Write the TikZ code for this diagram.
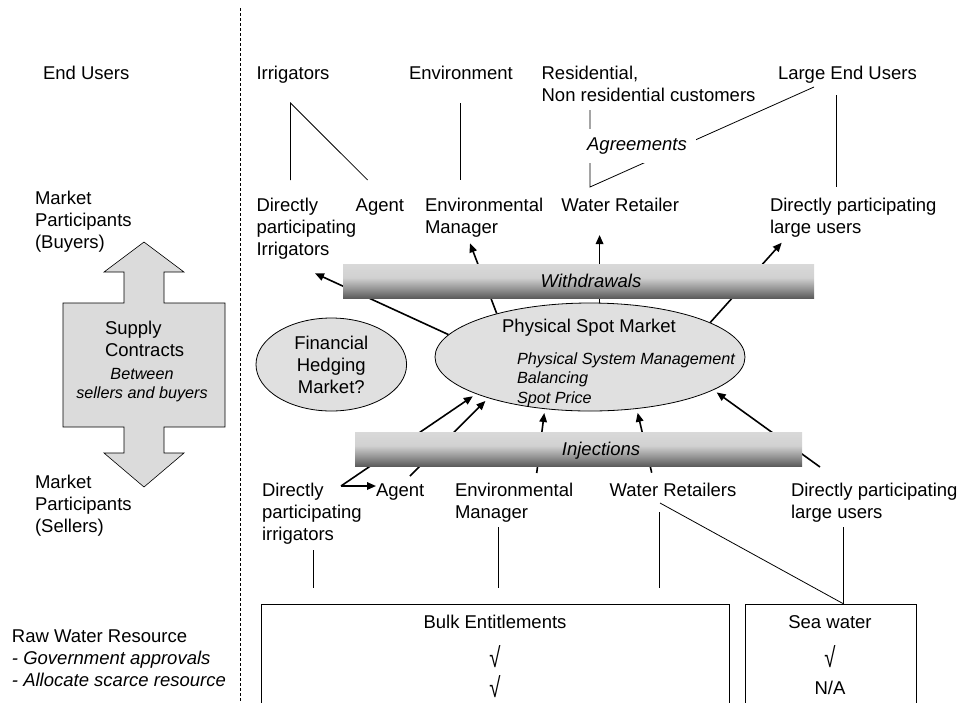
\documentclass[tikz,border=0pt]{standalone}
\usepackage{fontspec}
\usepackage{graphicx}
\setmainfont{Liberation Sans}
\usetikzlibrary{positioning}
\usetikzlibrary{shapes.geometric}
\usetikzlibrary{arrows.meta}

\newcommand{\bigsize}{\fontsize{18.5pt}{22pt}\selectfont}
\newcommand{\smallit}{\fontsize{16.2pt}{19.5pt}\selectfont\itshape}
\newcommand{\tick}{\scalebox{1.1}[1.5]{√}}
\pgfdeclareverticalshading{barshade}{100bp}{color(0bp)=(black!64); color(25bp)=(black!64); color(40bp)=(black!40); color(55bp)=(black!18); color(75bp)=(black!15); color(100bp)=(black!15)}

\begin{document}
\begin{tikzpicture}[x=1pt, y=-1pt,
    lbl/.style={inner sep=0pt, outer sep=0pt, align=left, anchor=base west, font=\bigsize},
    mkt/.style={ellipse, draw, fill=black!12, inner sep=0pt, line width=0.8pt},
    bar/.style={shading=barshade, inner sep=0pt, minimum height=34pt},
    arr/.style={line width=1.6pt, -{Triangle[length=9pt,width=7.5pt]}},
    link/.style={line width=0.8pt}]
  \useasboundingbox (0,0) rectangle (965,702);

  % separator
  \draw[dash pattern=on 3pt off 2pt, line width=0.7pt] (240,8) -- (240,702);

  % left column (multi-line labels sit on their last baseline)
  \node[lbl] (eu) at (43,79.5) {End Users};
  \node[lbl] (mpb) at (35,248.5) {Market\\Participants\\(Buyers)};
  \node[lbl] (mps) at (35,532) {Market\\Participants\\(Sellers)};
  \node[lbl] (rwr) at (12,686) {Raw Water Resource\\\textit{- Government approvals}\\\textit{- Allocate scarce resource}};

  % supply contracts
  \draw[fill=black!14, line width=0.6pt] (144,242) -- (184,272) -- (164,272) -- (164,303) -- (225,303)
    -- (225,427) -- (164,427) -- (164,453) -- (184,453) -- (144,487) -- (104,453) -- (124,453)
    -- (124,427) -- (63,427) -- (63,303) -- (124,303) -- (124,272) -- (104,272) -- cycle;
  \node[lbl] (sc) at (105,356.5) {Supply\\Contracts};
  \node[lbl, align=center, anchor=base, font=\smallit] (bsb) at (142,398.5) {Between\\sellers and buyers};

  % end users
  \node[lbl] (irr) at (256.5,79.5) {Irrigators};
  \node[lbl] (env) at (409,79.5) {Environment};
  \node[lbl] (res) at (541.6,101.5) {Residential,\\Non residential customers};
  \node[lbl] (leu) at (778,79.5) {Large End Users};

  % buyers
  \node[lbl] (dpi) at (256.5,255.5) {Directly\\participating\\Irrigators};
  \node[lbl] (agb) at (355.7,211.5) {Agent};
  \node[lbl] (emb) at (425,233.5) {Environmental\\Manager};
  \node[lbl] (wrb) at (561.4,211.5) {Water Retailer};
  \node[lbl] (dplb) at (770,233.5) {Directly participating\\large users};

  % sellers
  \node[lbl] (dps) at (262,540.5) {Directly\\participating\\irrigators};
  \node[lbl] (ags) at (376,496.5) {Agent};
  \node[lbl] (ems) at (455,518.5) {Environmental\\Manager};
  \node[lbl] (wrs) at (609.6,496.5) {Water Retailers};
  \node[lbl] (dpls) at (791,518.5) {Directly participating\\large users};

  % raw water
  \node[draw, link, minimum width=468.3pt, minimum height=120pt, anchor=north west] (bulk) at (260.7,604) {};
  \node[draw, link, minimum width=171pt, minimum height=120pt, anchor=north west] (sea) at (745,604) {};
  \node[lbl, anchor=base] (bulkt) at (495,628.5) {Bulk Entitlements};
  \node[lbl, anchor=center] (bulka) at (495,657) {\tick};
  \node[lbl, anchor=center] (bulkb) at (495,687) {\tick};
  \node[lbl, anchor=base] (seat) at (830,628.5) {Sea water};
  \node[lbl, anchor=center] (seaa) at (830,657) {\tick};
  \node[lbl, anchor=base] (sean) at (830,694.5) {N/A};

  % plain links
  \foreach \n/\x/\y in {irrj/290.5/103, irrd/290.5/180, irra/367.6/180, envt/460/103, envb/460/180,
      rest/590/110, wrj/590/187, leud/814/87, leut/836/95, leub/836/187,
      dpsa/313.5/550, dpsb/313.5/588, emsa/498/527, emsb/498/588, wrsa/659/512, wrsb/659/588,
      wrsd/660/503, dplsa/843.8/527}
    \coordinate (\n) at (\x,\y);
  \draw[link] (irrd) -- (irrj) -- (irra);
  \draw[link] (envt) -- (envb);
  \draw[link] (rest) -- (wrj) -- (leud);
  \draw[link] (leut) -- (leub);
  \foreach \a/\b in {dpsa/dpsb, emsa/emsb, wrsa/wrsb}
    \draw[link] (\a) -- (\b);
  \draw[link] (dplsa) -- (dplsa |- sea.north);
  \draw[link] (wrsd) -- (dplsa |- sea.north);
  \node[lbl, font=\bigsize\itshape, anchor=base, fill=white, inner xsep=9pt, inner ysep=8pt,
        text height=13.5pt, text depth=4pt] (agr) at (637,150.5) {Agreements};

  % markets
  \node[mkt, minimum width=310pt, minimum height=108pt] (psm) at (590,357) {};
  \node[lbl, anchor=base] (psmt) at (589,332.5) {Physical Spot Market};
  \node[lbl, font=\smallit] (psmi) at (517,403) {Physical System Management\\Balancing\\Spot Price};
  \node[mkt, align=center, font=\bigsize, minimum width=150.6pt, minimum height=93pt] (fhm) at (331.3,364.5) {Financial\\Hedging\\Market?};

  % withdrawals
  \coordinate (w1) at (315,273.3);
  \coordinate (w2) at (470,243.3);
  \coordinate (w3) at (599.3,235);
  \coordinate (w4) at (781.7,242.7);
  \foreach \a/\c in {171/w1, 155/w2, 16/w4}
    \draw[arr] (psm.\a) -- (\c);
  \draw[arr] (psm.80) -- (psm.80 |- w3);

  % injections
  \coordinate (i1) at (341,486);
  \coordinate (i2) at (410,476);
  \coordinate (i3) at (536.7,473);
  \coordinate (i4) at (651.7,472.7);
  \coordinate (i5) at (820,467);
  \foreach \c/\a in {i1/198, i2/202, i3/229, i4/312, i5/345}
    \draw[arr, shorten >=4pt] (\c) -- (psm.\a);
  \draw[arr] (i1) -- (i1 -| ags.west);

  % bars
  \node[bar, minimum width=471pt] (wdr) at (578.5,281) {};
  \node[lbl, font=\bigsize\itshape, anchor=base] (wdrt) at (591,287.5) {Withdrawals};
  \node[bar, minimum width=447pt] (inj) at (578.5,449) {};
  \node[lbl, font=\bigsize\itshape, anchor=base] (injt) at (601,455.5) {Injections};
\end{tikzpicture}
\end{document}
